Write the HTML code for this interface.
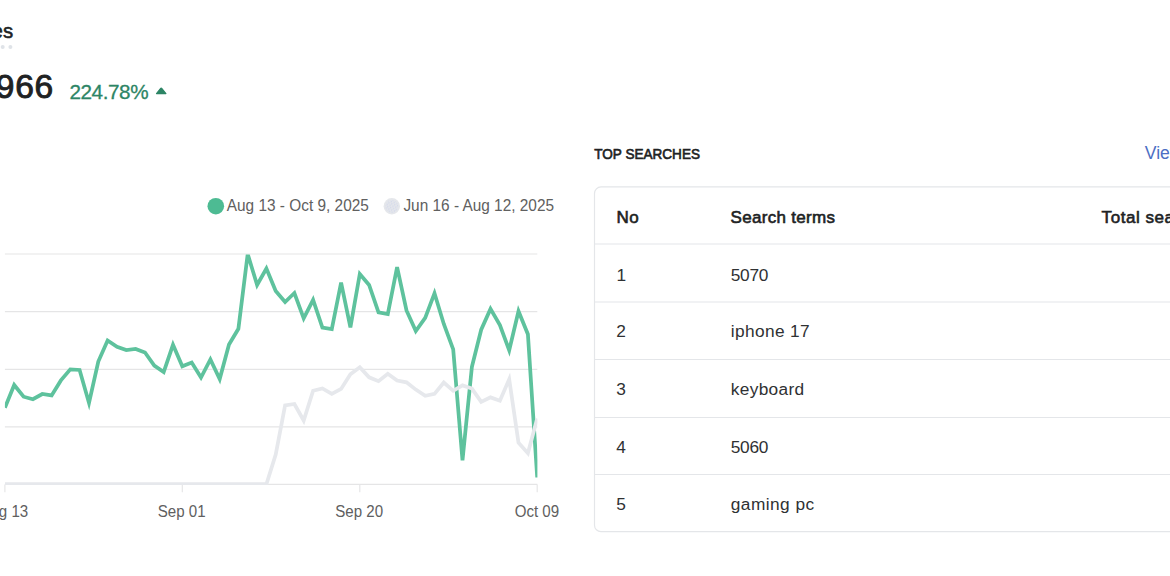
<!DOCTYPE html>
<html>
<head>
<meta charset="utf-8">
<title>Searches</title>
<style>
html,body{margin:0;padding:0;background:#fff;}
body{width:1170px;height:576px;position:relative;overflow:hidden;font-family:"Liberation Sans",sans-serif;color:#202223;}
.abs{position:absolute;white-space:nowrap;line-height:1;}
#title{right:1156.9px;top:21.1px;font-size:20.4px;color:#202223;-webkit-text-stroke:0.55px #202223;}
#dots{left:-4.6px;top:45.3px;}
#big{right:1116px;top:69.7px;font-size:33.6px;letter-spacing:0.75px;color:#202223;-webkit-text-stroke:0.9px #202223;}
#pct{left:69.4px;top:82px;font-size:20.7px;letter-spacing:-0.42px;color:#2d8565;-webkit-text-stroke:0.3px #2d8565;}
#legend1{left:226.8px;top:197px;font-size:15.4px;color:#606060;transform:scaleY(1.05);transform-origin:0 0;}
#legend2{left:403.4px;top:197px;font-size:15.4px;color:#606060;transform:scaleY(1.05);transform-origin:0 0;}
.xl{top:502.6px;font-size:15.1px;color:#606060;width:80px;text-align:center;transform:scaleY(1.05);transform-origin:0 0;}
#ts{left:594.3px;top:146.8px;font-size:13.55px;color:#202223;-webkit-text-stroke:0.6px #202223;transform:scaleY(1.06);transform-origin:0 0;}
#view{left:1144.8px;top:144.6px;font-size:17.6px;color:#4c6fc4;}
.th{font-size:17px;color:#202223;letter-spacing:0.3px;-webkit-text-stroke:0.6px #202223;}
.td{font-size:17.3px;color:#2f3133;}
</style>
</head>
<body>
<div id="title" class="abs">Searches</div>
<svg id="dots" class="abs" width="20" height="4" viewBox="0 0 20 4"><circle cx="0" cy="2" r="2" fill="#dfe3e8"/><circle cx="7.7" cy="2" r="2" fill="#dfe3e8"/><circle cx="15.4" cy="2" r="2" fill="#dfe3e8"/></svg>
<div id="big" class="abs">3,966</div>
<div id="pct" class="abs">224.78%</div>
<svg class="abs" style="left:154.4px;top:86.2px" width="14" height="10" viewBox="0 0 14 10"><path d="M2.5,7.6 L6.5,2.6 Q7.2,1.8 7.9,2.6 L11.9,7.6 Z" fill="#2d8565" stroke="#2d8565" stroke-width="1.2" stroke-linejoin="round"/></svg>

<svg class="abs" style="left:0;top:180px" width="590" height="330" viewBox="0 180 590 330">
  <g stroke="#e5e5e6" stroke-width="1.15" fill="none">
    <path d="M4.9,254 H537.3 M4.9,311.6 H537.3 M4.9,369.3 H537.3 M4.9,426.8 H537.3 M4.9,484.4 H537.3"/>
    <path d="M4.9,484.4 V492.3 M182.3,484.4 V492.3 M359.8,484.4 V492.3 M537.2,484.4 V492.3"/>
  </g>
  <clipPath id="cp"><rect x="4.9" y="254.5" width="532.5" height="230.6"/></clipPath>
  <g clip-path="url(#cp)" fill="none" stroke-width="3.75" stroke-linejoin="miter" stroke-miterlimit="4.15">
    <path d="M4.9,407.7 L14.2,385.0 L23.6,396.7 L32.9,399.2 L42.3,394.0 L51.6,395.4 L60.9,380.4 L70.3,369.4 L79.6,370.0 L89.0,403.0 L98.3,361.5 L107.6,340.5 L117.0,346.9 L126.3,350.0 L135.6,349.0 L145.0,352.5 L154.3,365.6 L163.7,372.0 L173.0,344.8 L182.3,366.3 L191.7,362.6 L201.0,377.5 L210.4,359.5 L219.7,379.0 L229.0,344.5 L238.4,328.8 L247.7,254.0 L257.1,285.0 L266.4,268.5 L275.7,291.0 L285.1,302.0 L294.4,293.0 L303.7,318.3 L313.1,299.8 L322.4,327.5 L331.8,329.2 L341.1,282.6 L350.4,327.3 L359.8,274.0 L369.1,285.0 L378.5,312.4 L387.8,314.1 L397.1,267.2 L406.5,310.5 L415.8,331.1 L425.2,317.8 L434.5,293.3 L443.8,324.0 L453.2,349.3 L462.5,460.3 L471.9,366.9 L481.2,329.7 L490.5,308.9 L499.9,325.1 L509.2,350.2 L518.5,311.2 L527.9,334.2 L537.2,477.5" stroke="#5ec29d"/>
    <path d="M4.9,484.2 L14.2,484.2 L23.6,484.2 L32.9,484.2 L42.3,484.2 L51.6,484.2 L60.9,484.2 L70.3,484.2 L79.6,484.2 L89.0,484.2 L98.3,484.2 L107.6,484.2 L117.0,484.2 L126.3,484.2 L135.6,484.2 L145.0,484.2 L154.3,484.2 L163.7,484.2 L173.0,484.2 L182.3,484.2 L191.7,484.2 L201.0,484.2 L210.4,484.2 L219.7,484.2 L229.0,484.2 L238.4,484.2 L247.7,484.2 L257.1,484.2 L266.4,484.2 L275.7,454.5 L285.1,405.4 L294.4,404.0 L303.7,420.5 L313.1,390.8 L322.4,388.4 L331.8,393.8 L341.1,388.9 L350.4,374.3 L359.8,367.3 L369.1,377.3 L378.5,381.2 L387.8,373.8 L397.1,380.6 L406.5,382.3 L415.8,389.6 L425.2,395.8 L434.5,393.9 L443.8,382.5 L453.2,390.8 L462.5,385.4 L471.9,388.6 L481.2,401.9 L490.5,397.4 L499.9,400.7 L509.2,379.2 L518.5,442.7 L527.9,453.2 L537.2,418.5" stroke="#e6e8ec"/>
  </g>
  <circle cx="215.8" cy="206.2" r="8.3" fill="#4dbb93"/>
  <defs><pattern id="dp" x="0" y="0" width="3" height="4" patternUnits="userSpaceOnUse" patternTransform="rotate(18)"><circle cx="0.8" cy="0.8" r="0.62" fill="#c3cbea"/><circle cx="2.3" cy="2.8" r="0.62" fill="#c3cbea"/></pattern></defs>
  <circle cx="391.8" cy="206.3" r="8.2" fill="#e5e7eb"/>
  <circle cx="391.8" cy="206.3" r="6.6" fill="url(#dp)"/>
</svg>
<div id="legend1" class="abs">Aug 13 - Oct 9, 2025</div>
<div id="legend2" class="abs">Jun 16 - Aug 12, 2025</div>
<div class="abs xl" style="left:-35.7px">Aug 13</div>
<div class="abs xl" style="left:141.7px">Sep 01</div>
<div class="abs xl" style="left:319.2px">Sep 20</div>
<div class="abs xl" style="left:496.9px">Oct 09</div>

<div id="ts" class="abs">TOP SEARCHES</div>
<div id="view" class="abs">View all</div>
<svg class="abs" style="left:580px;top:180px" width="590" height="360" viewBox="580 180 590 360">
  <g fill="none" stroke="#e4e6e9" stroke-width="1.2">
    <rect x="594.5" y="186.9" width="700" height="344.8" rx="6.5" ry="6.5"/>
    <path d="M595,244 H1180 M595,302 H1180 M595,359.5 H1180 M595,417.5 H1180 M595,474.5 H1180"/>
  </g>
</svg>
<div class="abs th" style="left:616.6px;top:208.9px">No</div>
<div class="abs th" style="left:730.6px;top:208.9px">Search terms</div>
<div class="abs th" style="left:1101.6px;top:208.9px;letter-spacing:0.55px">Total searches</div>
<div class="abs td" style="left:616.6px;top:266.7px">1</div>
<div class="abs td" style="left:730.8px;top:266.7px;letter-spacing:-0.3px">5070</div>
<div class="abs td" style="left:616.2px;top:323.4px">2</div>
<div class="abs td" style="left:730.8px;top:323.4px;letter-spacing:0.37px">iphone 17</div>
<div class="abs td" style="left:616.2px;top:380.7px">3</div>
<div class="abs td" style="left:730.8px;top:380.7px;letter-spacing:0.33px">keyboard</div>
<div class="abs td" style="left:616.2px;top:439.4px">4</div>
<div class="abs td" style="left:730.8px;top:439.4px;letter-spacing:-0.3px">5060</div>
<div class="abs td" style="left:616.2px;top:496px">5</div>
<div class="abs td" style="left:730.8px;top:496px;letter-spacing:0.45px">gaming pc</div>
</body>
</html>
